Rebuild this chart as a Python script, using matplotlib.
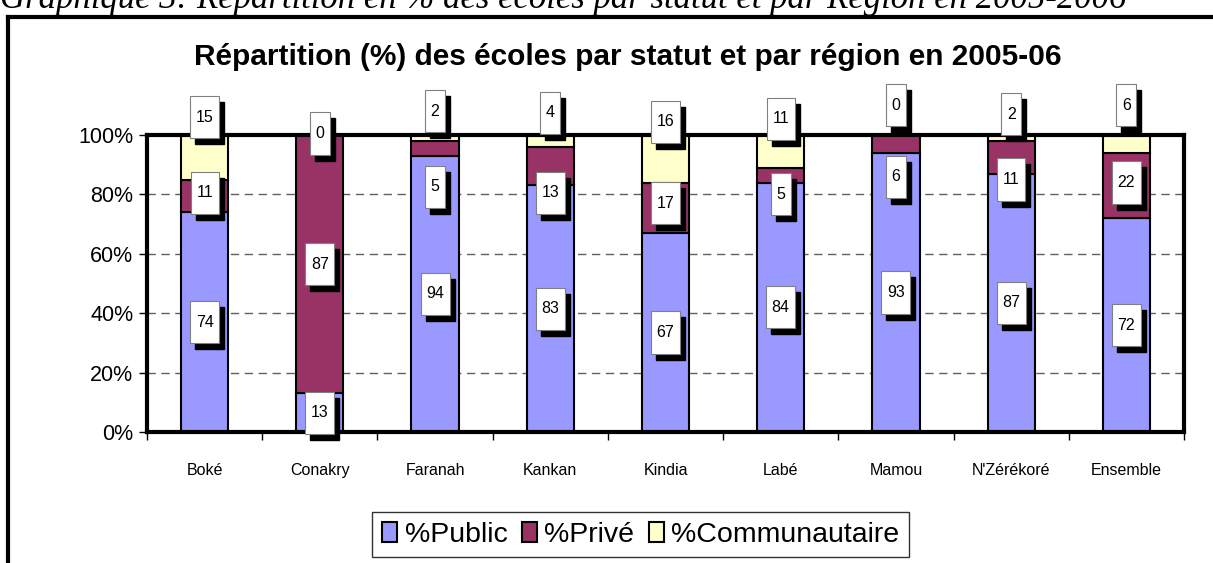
import matplotlib.pyplot as plt
import numpy as np
from matplotlib.lines import Line2D
from matplotlib.path import Path

# Données (% des écoles par statut)
regions = ["Boké", "Conakry", "Faranah", "Kankan", "Kindia", "Labé", "Mamou", "N'Zérékoré", "Ensemble"]
public = [74, 13, 94, 83, 67, 84, 93, 87, 72]
prive = [11, 87, 5, 13, 17, 5, 6, 11, 22]
communautaire = [15, 0, 2, 4, 16, 11, 0, 2, 6]

# position (en %) des étiquettes déplacées à la main dans l'original
y_lab_prive = [80.5, 56.5, 82.5, 80.5, 77, 80, 86, 85, 84]
y_lab_comm = [106, 100.5, 108, 107.5, 104.5, 105.5, 110, 107, 110]

plt.rcParams['font.family'] = ['Liberation Sans', 'DejaVu Sans']

fig = plt.figure(figsize=(12.13, 5.63), dpi=100)
ax = fig.add_axes([0.1212, 0.2327, 0.8549, 0.5275])

pub = np.array(public, float)
pri = np.array(prive, float)
com = np.array(communautaire, float)
tot = pub + pri + com
p1 = pub / tot * 100
p2 = pri / tot * 100
p3 = com / tot * 100

x = np.arange(len(regions))
w = 0.41
ax.bar(x, p1, w, color="#9999FF", edgecolor="black", linewidth=1.5, label="%Public", zorder=2)
ax.bar(x, p2, w, bottom=p1, color="#993366", edgecolor="black", linewidth=1.5, label="%Privé", zorder=2)
ax.bar(x, p3, w, bottom=p1 + p2, color="#FFFFCC", edgecolor="black", linewidth=1.5, label="%Communautaire", zorder=2)


def boite_haute(x0, y0, width, height, mutation_size):
    # boîte plus haute que large, comme les étiquettes d'Excel
    px = 0.35 * mutation_size
    py = 0.85 * mutation_size
    x0, y0 = x0 - px, y0 - py
    x1, y1 = x0 + width + 2 * px, y0 + height + 2 * py
    return Path([(x0, y0), (x1, y0), (x1, y1), (x0, y1), (x0, y0)], closed=True)


def etiquette(xi, yi, txt):
    # ombre noire puis boîte blanche
    ax.annotate(txt, (xi, yi), xytext=(5, -6), textcoords="offset pixels",
                ha="center", va="center", fontsize=11.5, color="black", zorder=4,
                bbox=dict(boxstyle=boite_haute, fc="black", ec="black"),
                annotation_clip=False)
    ax.annotate(txt, (xi, yi), ha="center", va="center", fontsize=11.5, zorder=5,
                bbox=dict(boxstyle=boite_haute, fc="white", ec="#808080", lw=0.8),
                annotation_clip=False)


for i in range(len(regions)):
    etiquette(x[i], p1[i] / 2, str(public[i]))
    etiquette(x[i], y_lab_prive[i], str(prive[i]))
    etiquette(x[i], y_lab_comm[i], str(communautaire[i]))

ax.set_xlim(-0.5, len(regions) - 0.5)
ax.set_ylim(0, 100)
ax.set_yticks([0, 20, 40, 60, 80, 100])
ax.set_yticklabels(["0%", "20%", "40%", "60%", "80%", "100%"], fontsize=15.5)
ax.set_xticks(x)
ax.set_xticklabels(regions, fontsize=11.5)
ax.set_xticks(np.arange(-0.5, len(regions)), minor=True)
ax.tick_params(axis="x", which="major", length=0, pad=22)
ax.tick_params(axis="x", which="minor", length=6, width=1, direction="out")
ax.tick_params(axis="y", length=6, width=1, direction="out", pad=4)
for y in [20, 40, 60, 80]:
    ax.axhline(y, color="#606060", linestyle=(0, (6, 4)), linewidth=1, zorder=1)
for s in ax.spines.values():
    s.set_linewidth(3)

fig.text(628 / 1213, 1 - 57 / 563, "Répartition (%) des écoles par statut et par région en 2005-06",
         fontsize=21.5, fontweight="bold", ha="center", va="center")

leg = ax.legend(loc="upper center", bbox_to_anchor=(0.476, -0.22), ncol=3, fontsize=20.5,
                frameon=True, fancybox=False, edgecolor="black", handlelength=0.55,
                handleheight=0.7, handletextpad=0.25, columnspacing=0.5, borderpad=0.35)
leg.get_frame().set_linewidth(1)

# cadre extérieur et légende du document
fig.add_artist(Line2D([8 / 1213, 8 / 1213], [0, 1 - 17 / 563], color="black", linewidth=3))
fig.add_artist(Line2D([8 / 1213, 1], [1 - 17 / 563, 1 - 17 / 563], color="black", linewidth=3))
fig.text(0.0, 1 - 8 / 563, "Graphique 3: Répartition en % des écoles par statut et par Région en 2005-2006",
         family="Liberation Serif", style="italic", fontsize=25, va="baseline", ha="left")

fig.savefig("out.png", dpi=100)
